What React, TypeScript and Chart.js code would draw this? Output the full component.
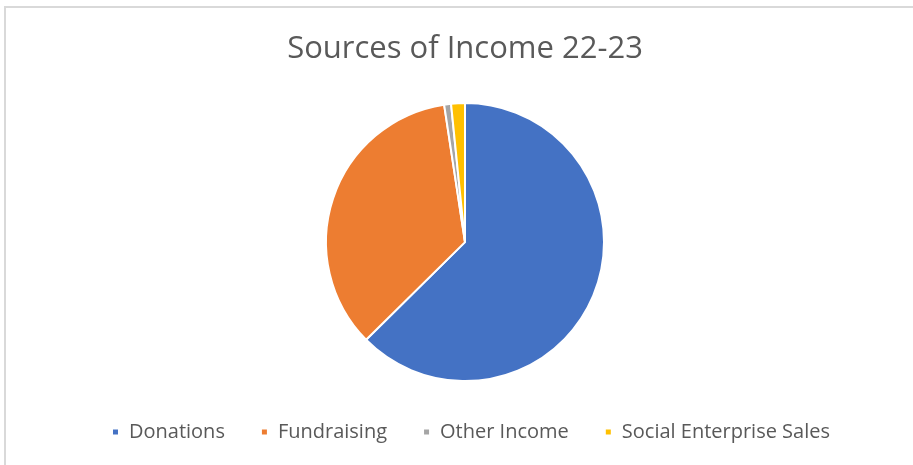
import React, { useEffect, useRef } from "react";
import { Chart, registerables } from "chart.js";

Chart.register(...registerables);

const categories = ["Donations", "Fundraising", "Other Income", "Social Enterprise Sales"];
const values = [62.6, 35.0, 0.8, 1.6];
const colors = ["#4472C4", "#ED7D31", "#A5A5A5", "#FFC000"];
const titleText = "Sources of Income 22-23";

const LEGEND_HEIGHT = 79;
const LEGEND_SHIFT = 6;

const legendFit = {
  id: "legendFit",
  beforeInit(chart: any) {
    const legend = chart.legend;
    if (!legend) return;
    const orig = legend.fit;
    legend.fit = function () {
      orig.call(this);
      this.height = LEGEND_HEIGHT;
    };
  },
  afterLayout(chart: any) {
    const legend = chart.legend;
    if (!legend) return;
    legend.left += LEGEND_SHIFT;
    legend.right += LEGEND_SHIFT;
  },
};

export default function App() {
  const ref = useRef<HTMLCanvasElement | null>(null);
  useEffect(() => {
    if (!ref.current) return;
    const chart = new Chart(ref.current, {
      type: "pie",
      data: {
        labels: categories,
        datasets: [
          {
            data: values,
            backgroundColor: colors,
            borderColor: "#ffffff",
            borderWidth: 2,
          },
        ],
      },
      options: {
        responsive: false,
        maintainAspectRatio: false,
        animation: false,
        radius: 139,
        layout: { padding: { left: 17, right: 0, top: 0, bottom: 0 } },
        plugins: {
          title: {
            display: true,
            text: titleText,
            color: "#595959",
            font: { family: "Open Sans", size: 31, weight: "normal", lineHeight: 1.2 },
            padding: { top: 31, bottom: 30 },
          },
          legend: {
            position: "bottom",
            labels: {
              boxWidth: 7,
              boxHeight: 7,
              padding: 36,
              color: "#595959",
              font: { family: "Open Sans", size: 20 },
            },
          },
          tooltip: { enabled: false },
        },
      } as any,
      plugins: [legendFit],
    });
    return () => chart.destroy();
  }, []);
  return (
    <div
      style={{
        position: "fixed",
        left: 0,
        top: 0,
        width: 913,
        height: 465,
        overflow: "hidden",
        background: "#ffffff",
      }}
    >
      <div
        style={{
          position: "absolute",
          left: 4,
          top: 6,
          width: 1200,
          height: 1200,
          borderLeft: "2px solid #d9d9d9",
          borderTop: "2px solid #d9d9d9",
        }}
      />
      <canvas
        ref={ref}
        width={913}
        height={465}
        style={{ position: "absolute", left: 0, top: 0, display: "block" }}
      />
    </div>
  );
}
